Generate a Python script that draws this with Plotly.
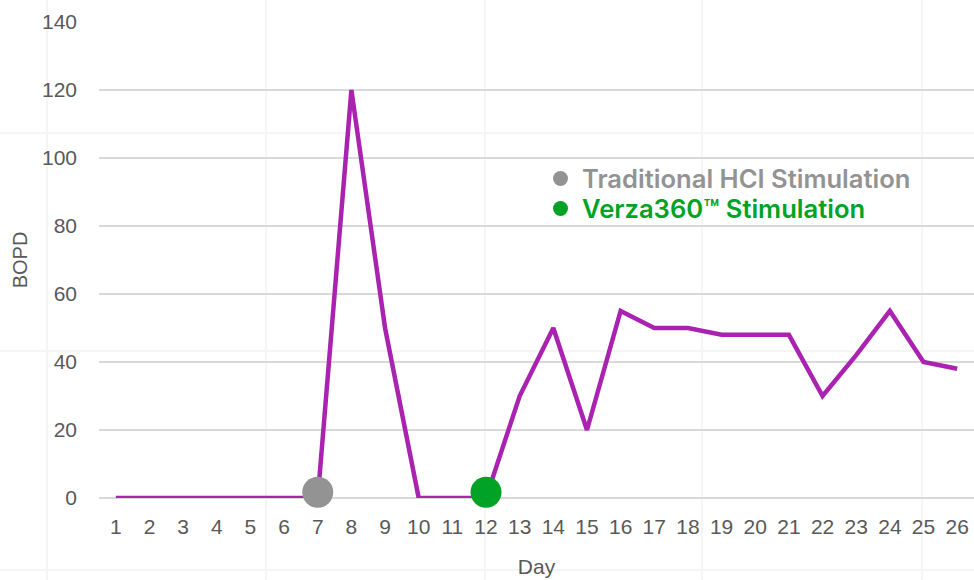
import plotly.graph_objects as go

days = list(range(1, 27))
bopd = [0, 0, 0, 0, 0, 0, 0, 120, 50, 0, 0, 0, 30, 50, 20, 55, 50, 50, 48, 48, 48, 30, 42, 55, 40, 38]

event_days = [7, 12]
event_values = [1.7, 1.7]
event_names = ["Traditional HCI Stimulation", "Verza360™ Stimulation"]
event_colors = ["#939393", "#00A326"]

y_ticks = [0, 20, 40, 60, 80, 100, 120, 140]

fig = go.Figure()
fig.add_trace(go.Scatter(x=days, y=bopd, mode="lines",
                         line=dict(color="#A922B0", width=4.5), showlegend=False, cliponaxis=False))
fig.add_trace(go.Scatter(x=event_days, y=event_values, mode="markers",
                         marker=dict(color=event_colors, size=31, line=dict(width=0)),
                         showlegend=False, cliponaxis=False))

W, H = 974, 580
L, R, T, B = 99, 0, 22, 580 - 498
pw, ph = W - L - R, H - T - B

def px(x):
    return (x - L) / pw

def py(y):
    return (H - B - y) / ph

shapes = []
# faint page background grid
for xv in [47, 266, 485, 702, 922]:
    shapes.append(dict(type="line", xref="paper", yref="paper", x0=px(xv), x1=px(xv), y0=py(0), y1=py(580),
                       line=dict(color="#F5F5F5", width=2), layer="below"))
for yv in [133, 351, 570]:
    shapes.append(dict(type="line", xref="paper", yref="paper", x0=px(0), x1=px(974), y0=py(yv), y1=py(yv),
                       line=dict(color="#F5F5F5", width=2), layer="below"))

annotations = []
for i, (name, col) in enumerate(zip(event_names, event_colors)):
    yc = 178.5 + 30 * i
    shapes.append(dict(type="circle", xref="paper", yref="paper", xsizemode="pixel", ysizemode="pixel",
                       xanchor=px(560.5), yanchor=py(yc), x0=-7.5, x1=7.5, y0=-7.5, y1=7.5,
                       fillcolor=col, line=dict(width=0)))
    annotations.append(dict(xref="paper", yref="paper", x=px(580), y=py(yc), xanchor="left", yanchor="middle",
                            text=name, showarrow=False,
                            font=dict(family="Inter", size=25.6, weight=600, color=col)))

fig.update_layout(
    width=W, height=H,
    margin=dict(l=L, r=R, t=T, b=B),
    paper_bgcolor="white", plot_bgcolor="white",
    shapes=shapes, annotations=annotations,
    font=dict(family="Liberation Sans", color="#595959"),
    xaxis=dict(range=[0.5, 26.5], tickmode="array", tickvals=days, ticktext=[str(d) for d in days],
               showgrid=False, zeroline=False, showline=False, tickfont=dict(size=21, color="#595959"),
               ticklabelstandoff=14,
               title=dict(text="Day", font=dict(size=21, color="#595959"), standoff=22)),
    yaxis=dict(range=[0, 140], tickmode="array", tickvals=y_ticks, showgrid=True, gridcolor="#D9D9D9",
               gridwidth=1.5, zeroline=True, zerolinecolor="#D9D9D9", zerolinewidth=1.5, showline=False,
               tickfont=dict(size=21, color="#595959"), ticklabelstandoff=21,
               title=dict(text="BOPD", font=dict(size=20, color="#595959"), standoff=8)),
)

fig.write_html("out.html", config={"displayModeBar": False},
               post_script="document.body.style.margin='0';document.body.style.overflow='hidden';")
